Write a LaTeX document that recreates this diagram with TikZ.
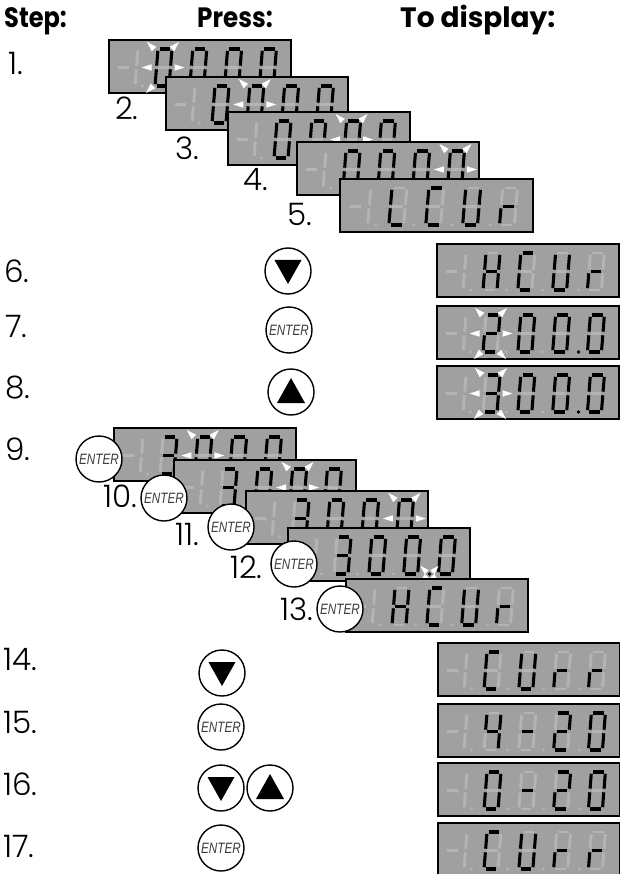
\documentclass[tikz,border=0pt]{standalone}
\usepackage{fontspec}
\setmainfont{Poppins}
\newfontfamily\stepfont{Poppins Light}
\newfontfamily\entfont{Liberation Sans}
\definecolor{dispbg}{RGB}{160,160,160}
\definecolor{segdim}{RGB}{180,180,180}
\definecolor{enttext}{RGB}{60,60,60}
\tikzset{
  dispbox/.style={draw=black, line width=2.4pt, fill=dispbg, rectangle, inner sep=0pt, minimum height=53pt, anchor=north west},
  segon/.style={draw=black, line width=3.1pt},
  segoff/.style={draw=segdim, line width=2.9pt},
  btn/.style={circle, draw=black, line width=1.4pt, fill=white, minimum size=46pt, inner sep=0pt},
  steplbl/.style={anchor=base west, inner sep=0pt, font=\stepfont\fontsize{31}{31}\selectfont},
  header/.style={anchor=base west, inner sep=0pt, font=\bfseries\fontsize{28}{28}\selectfont},
}
\def\sgZ{a,b,c,d,e,f}
\def\sgTwo{a,b,g,e,d}
\def\sgThree{a,b,g,c,d}
\def\sgFour{f,g,b,c}
\def\sgH{b,c,e,f,g}
\def\sgC{a,d,e,f}
\def\sgU{b,c,d,e,f}
\def\sgR{e,g}
\def\sgL{d,e,f}
\def\sgM{g}
\newcommand\SevSeg[3]{%
  \edef\segl{#3}%
  \begin{scope}[shift={(#1,#2)}, xslant=0.08]
    \path (1.8,0) coordinate (sa1) (12.2,0) coordinate (sa2)
      (14,1.8) coordinate (sb1) (14,16.7) coordinate (sb2)
      (14,20.3) coordinate (sc1) (14,35.2) coordinate (sc2)
      (1.8,37) coordinate (sd1) (12.2,37) coordinate (sd2)
      (0,20.3) coordinate (se1) (0,35.2) coordinate (se2)
      (0,1.8) coordinate (sf1) (0,16.7) coordinate (sf2)
      (1.8,18.5) coordinate (sg1) (12.2,18.5) coordinate (sg2);
    \foreach \segk in {a,b,c,d,e,f,g} {\draw[segoff] (s\segk1) -- (s\segk2);}
    \foreach \segk in \segl {\draw[segon] (s\segk1) -- (s\segk2);}
  \end{scope}}
\newcommand\Wedge[4]{%
  \begin{scope}[shift={(#1,#2)}, rotate=#3, scale=#4]
    \fill[white] (5,0) -- (-5,3.2) -- (-5,-3.2) -- cycle;
  \end{scope}}
\newcommand\FlashDigit[2]{%
  \Wedge{#1-13}{#2-22}{135}{1}
  \Wedge{#1+12}{#2-22}{45}{1}
  \Wedge{#1-17}{#2}{180}{1}
  \Wedge{#1+16}{#2}{0}{1}
  \Wedge{#1-14}{#2+22}{225}{1}
  \Wedge{#1+11}{#2+22}{315}{1}}
\newcommand\FlashDot[2]{%
  \Wedge{#1-6}{#2-5}{135}{0.9}
  \Wedge{#1+6}{#2-5}{45}{0.9}
  \Wedge{#1-6}{#2+5}{225}{0.9}
  \Wedge{#1+6}{#2+5}{315}{0.9}}
% name, left, top, digits, dp index, flash index, xscale
\newcommand\Disp[7]{%
  \node[dispbox, minimum width={182pt*#7}] (#1) at (#2,#3) {};
  \begin{scope}[shift={(#2,#3)}, xscale=#7]
    \draw[segoff] (10,28.5) -- (21,28.5);
    \begin{scope}[shift={(16,10)}, xslant=0.08]
      \draw[segoff] (14,1.8) -- (14,16.7) (14,20.3) -- (14,35.2);
    \end{scope}
    \foreach \s [count=\i from 0] in {#4} {\SevSeg{50+34.8*\i}{10}{\s}}
    \foreach \k in {0,1,2,3} {\fill[segdim] (34.5+36*\k,47) circle (1.6pt);}
    \ifnum#5>-1 \fill[black] (34.5+36*#5,47) circle (1.9pt);\fi
    \ifnum#6>-1
      \ifnum#6<4 \FlashDigit{55.5+34.8*#6}{28.5}\else \FlashDot{142.5}{47}\fi
    \fi
  \end{scope}}
\newcommand\enttxt{\textcolor{enttext}{\scalebox{0.78}[1]{\entfont\itshape\fontsize{15}{15}\selectfont ENTER}}}
\newcommand\DownBtn[3]{\node[btn] (#1) at (#2,#3) {};
  \fill (#1.center) ++(-13.5,-11) -- ++(27,0) -- ++(-13.5,24) -- cycle;}
\newcommand\UpBtn[3]{\node[btn] (#1) at (#2,#3) {};
  \fill (#1.center) ++(0,-14) -- ++(14,25) -- ++(-28,0) -- cycle;}
\newcommand\EntBtn[3]{\node[btn] (#1) at (#2,#3) {\enttxt};}
\begin{document}
\begin{tikzpicture}[x=1pt,y=-1pt]
\path[use as bounding box] (0,0) rectangle (620,874);
% headers
\node[header] (hs) at (4,28) {\scalebox{0.86}[1]{Step:}};
\node[header] (hp) at (197,28) {\scalebox{0.88}[1]{Press:}};
\node[header] (hd) at (400,28) {To display:};
% steps 1-5
\node[steplbl] (l1) at (8,75) {1.};
\Disp{d1}{108}{39}{\sgZ,\sgZ,\sgZ,\sgZ}{-1}{0}{1}
\node[steplbl] (l2) at (115,120) {2.};
\Disp{d2}{165}{76}{\sgZ,\sgZ,\sgZ,\sgZ}{-1}{1}{1}
\node[steplbl] (l3) at (175,160) {3.};
\Disp{d3}{227}{111}{\sgZ,\sgZ,\sgZ,\sgZ}{-1}{2}{1}
\node[steplbl] (l4) at (243,191) {4.};
\Disp{d4}{296}{141}{\sgZ,\sgZ,\sgZ,\sgZ}{-1}{3}{1}
\node[steplbl] (l5) at (287,226) {5.};
\Disp{d5}{339}{178}{\sgL,\sgC,\sgU,\sgR}{-1}{-1}{1.06}
% steps 6-8
\node[steplbl] (l6) at (4,282) {6.};
\DownBtn{b6}{288}{271}
\Disp{d6}{436}{243}{\sgH,\sgC,\sgU,\sgR}{-1}{-1}{1}
\node[steplbl] (l7) at (5,337) {7.};
\EntBtn{b7}{289}{330}
\Disp{d7}{436}{305}{\sgTwo,\sgZ,\sgZ,\sgZ}{3}{0}{1}
\node[steplbl] (l8) at (5,398) {8.};
\UpBtn{b8}{291}{392}
\Disp{d8}{436}{365}{\sgThree,\sgZ,\sgZ,\sgZ}{3}{0}{1}
% steps 9-13
\node[steplbl] (l9) at (5,460) {9.};
\Disp{d9}{113}{427}{\sgThree,\sgZ,\sgZ,\sgZ}{3}{1}{1}
\EntBtn{b9}{99}{459}
\Disp{d10}{173}{459}{\sgThree,\sgZ,\sgZ,\sgZ}{3}{2}{1}
\node[steplbl] (l10) at (103,507) {10.};
\EntBtn{b10}{164}{498}
\Disp{d11}{245}{490}{\sgThree,\sgZ,\sgZ,\sgZ}{3}{3}{1}
\node[steplbl] (l11) at (175,545) {11.};
\EntBtn{b11}{231}{527}
\Disp{d12}{287}{527}{\sgThree,\sgZ,\sgZ,\sgZ}{3}{4}{1}
\node[steplbl] (l12) at (230,578) {12.};
\EntBtn{b12}{294}{564}
\Disp{d13}{345}{578}{\sgH,\sgC,\sgU,\sgR}{-1}{-1}{1}
\node[steplbl] (l13) at (280,620) {13.};
\EntBtn{b13}{340}{609}
% steps 14-17
\node[steplbl] (l14) at (3,670) {14.};
\DownBtn{b14}{222}{673}
\Disp{d14}{437}{642}{\sgC,\sgU,\sgR,\sgR}{-1}{-1}{1}
\node[steplbl] (l15) at (3,733) {15.};
\EntBtn{b15}{221}{727}
\Disp{d15}{437}{703}{\sgFour,\sgM,\sgTwo,\sgZ}{-1}{-1}{1}
\node[steplbl] (l16) at (3,795) {16.};
\DownBtn{b16a}{221}{788}
\UpBtn{b16b}{270}{788}
\Disp{d16}{437}{762}{\sgZ,\sgM,\sgTwo,\sgZ}{-1}{-1}{1}
\node[steplbl] (l17) at (3,857) {17.};
\EntBtn{b17}{221}{848}
\Disp{d17}{437}{822}{\sgC,\sgU,\sgR,\sgR}{-1}{-1}{1}
\end{tikzpicture}
\end{document}
